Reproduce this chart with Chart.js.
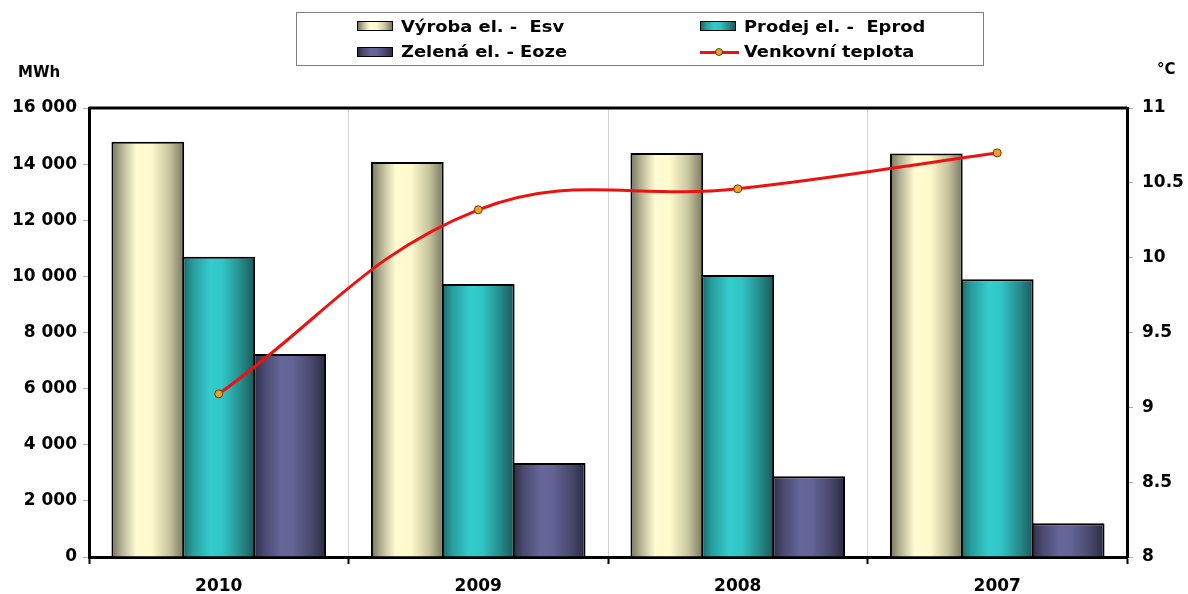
<!DOCTYPE html>
<html lang="cs">
<head>
<meta charset="utf-8">
<title>Výroba a prodej elektřiny</title>
<script src="https://cdn.jsdelivr.net/npm/chart.js@4/dist/chart.umd.min.js"></script>
<style>
  html, body { margin: 0; padding: 0; background: #fff; }
  #wrap { position: relative; width: 1188px; height: 594px; overflow: hidden; }
  #chart { position: absolute; left: 0; top: 0; }
  #legend {
    position: absolute; left: 296px; top: 12px; width: 686px; height: 52px;
    border: 1.5px solid #808080; box-sizing: content-box;
    font: bold 15px "DejaVu Sans", sans-serif; color: #000;
  }
  .sw { position: absolute; width: 34px; height: 8px; border: 1.5px solid #000; }
  .ln { position: absolute; width: 39px; height: 12px; }
  .ln::before { content: ""; position: absolute; left: 0; right: 0; top: 4.5px; height: 3px; background: #ee1111; }
  .ln::after { content: ""; position: absolute; left: 15px; top: 2px; width: 6px; height: 6px; border-radius: 50%;
               background: #f0a028; border: 1px solid #5a4010; }
  .txt { position: absolute; height: 20px; line-height: 20px; white-space: pre;
         transform: scaleX(1.19); transform-origin: left center; }
</style>
</head>
<body>
<div id="wrap">
  <canvas id="chart" width="1188" height="594"></canvas>
  <div id="legend"></div>
</div>
<script>
// Years on the category axis
const years = ['2010', '2009', '2008', '2007'];
// Electricity production [MWh]
const vyroba = [14800, 14080, 14400, 14380];
// Electricity sold [MWh]
const prodej = [10700, 9730, 10050, 9900];
// Green electricity [MWh]
const zelena = [7230, 3350, 2880, 1200];
// Mean outdoor temperature [°C]
const teplota = [9.09, 10.32, 10.46, 10.70];

// Left and right axis ranges
const mwhTicks = { min: 0, max: 16000, step: 2000 };
const tempTicks = { min: 8, max: 11, step: 0.5 };

const labels = {
  vyroba: 'Výroba el. -  Esv',
  prodej: 'Prodej el. -  Eprod',
  zelena: 'Zelená el. - Eoze',
  teplota: 'Venkovní teplota'
};

// Horizontal shading for each bar colour (cylinder-like fill)
const shades = {
  vyroba: [[0, '#74745c'], [0.14, '#b4b294'], [0.34, '#fffcd2'], [0.55, '#fffacc'], [0.8, '#c6c49e'], [1, '#78765e']],
  prodej: [[0, '#1c6666'], [0.14, '#279c9c'], [0.38, '#33cccc'], [0.55, '#31c6c6'], [0.8, '#268c8c'], [1, '#1a5858']],
  zelena: [[0, '#2c2c46'], [0.14, '#48486f'], [0.38, '#666699'], [0.55, '#636395'], [0.8, '#48486c'], [1, '#2a2a42']]
};

function cssGradient(stops) {
  return 'linear-gradient(to right,' + stops.map(s => s[1] + ' ' + (s[0] * 100) + '%').join(',') + ')';
}

const fmtThousands = v => String(v).replace(/\B(?=(\d{3})+(?!\d))/g, ' ');
const FONT = '"DejaVu Sans", sans-serif';

// Fills every bar with a horizontal gradient spanning its own width
const barShading = {
  id: 'barShading',
  beforeDatasetsDraw(chart) {
    const ctx = chart.ctx;
    chart.data.datasets.forEach((ds, i) => {
      if (ds.type !== 'bar') return;
      const meta = chart.getDatasetMeta(i);
      meta.data.forEach(el => {
        const { x, width } = el.getProps(['x', 'width'], true);
        const g = ctx.createLinearGradient(x - width / 2, 0, x + width / 2, 0);
        shades[ds.key].forEach(s => g.addColorStop(s[0], s[1]));
        el.options = Object.assign({}, el.options, { backgroundColor: g });
      });
    });
  }
};

// Plot frame top edge and axis unit captions
const frameAndUnits = {
  id: 'frameAndUnits',
  afterDatasetsDraw(chart) {
    const { ctx, chartArea: a } = chart;
    ctx.save();
    ctx.strokeStyle = '#000';
    ctx.lineWidth = 3;
    ctx.beginPath();
    ctx.moveTo(a.left, a.top);
    ctx.lineTo(a.right, a.top);
    ctx.stroke();
    ctx.fillStyle = '#000';
    ctx.font = 'bold 15px ' + FONT;
    ctx.textBaseline = 'middle';
    ctx.textAlign = 'left';
    ctx.fillText('MWh', 18, 73);
    ctx.fillText('°C', 1157, 70);
    ctx.restore();
  }
};

const barStyle = { borderColor: '#000', borderWidth: 2, categoryPercentage: 0.82, barPercentage: 1.025 };

const chart = new Chart(document.getElementById('chart'), {
  data: {
    labels: years,
    datasets: [
      Object.assign({ type: 'bar', key: 'vyroba', label: labels.vyroba, data: vyroba, yAxisID: 'y', order: 1,
        backgroundColor: '#fffacc' }, barStyle),
      Object.assign({ type: 'bar', key: 'prodej', label: labels.prodej, data: prodej, yAxisID: 'y', order: 1,
        backgroundColor: '#33cccc' }, barStyle),
      Object.assign({ type: 'bar', key: 'zelena', label: labels.zelena, data: zelena, yAxisID: 'y', order: 1,
        backgroundColor: '#666699' }, barStyle),
      { type: 'line', key: 'teplota', label: labels.teplota, data: teplota, yAxisID: 'y2', order: 0,
        borderColor: '#ee1111', borderWidth: 3, tension: 0.4,
        pointRadius: 4, pointBackgroundColor: '#f0a028', pointBorderColor: '#5a4010', pointBorderWidth: 1 }
    ]
  },
  options: {
    responsive: false,
    animation: false,
    layout: { padding: { top: 108, left: 0, right: 0, bottom: 0 } },
    plugins: { legend: { display: false }, tooltip: { enabled: false } },
    scales: {
      x: {
        afterFit: s => { s.height = 37; },
        offset: true,
        grid: { offset: true, color: '#d2d2d2', lineWidth: 1, drawTicks: true,
                tickLength: 7, tickColor: '#000', tickWidth: 2 },
        border: { display: true, color: '#000', width: 3 },
        ticks: { color: '#000', font: { family: FONT, size: 17, weight: 'bold' }, padding: 12 }
      },
      y: {
        position: 'left',
        min: mwhTicks.min, max: mwhTicks.max,
        afterFit: s => { s.width = 89; },
        grid: { drawOnChartArea: false, drawTicks: true, tickLength: 6, tickColor: '#b0b0b0', tickWidth: 1 },
        border: { display: true, color: '#000', width: 3 },
        ticks: { stepSize: mwhTicks.step, color: '#000', padding: 6,
                 font: { family: FONT, size: 17, weight: 'bold' }, callback: v => fmtThousands(v) }
      },
      y2: {
        position: 'right',
        min: tempTicks.min, max: tempTicks.max,
        afterFit: s => { s.width = 61; },
        grid: { drawOnChartArea: false, drawTicks: true, tickLength: 6, tickColor: '#b0b0b0', tickWidth: 1 },
        border: { display: true, color: '#000', width: 3 },
        ticks: { stepSize: tempTicks.step, color: '#000', padding: 9,
                 font: { family: FONT, size: 17, weight: 'bold' }, callback: v => String(v) }
      }
    }
  },
  plugins: [barShading, frameAndUnits]
});

// Two-column legend built from the datasets
(function buildLegend() {
  const box = document.getElementById('legend');
  // marker left, text left, row centre (relative to the legend box)
  const pos = [
    { mark: 60, text: 104, cy: 13.5 },
    { mark: 403, text: 447, cy: 13.5 },
    { mark: 60, text: 104, cy: 39 },
    { mark: 403, text: 447, cy: 39 }
  ];
  ['vyroba', 'prodej', 'zelena', 'teplota'].forEach((key, i) => {
    const ds = chart.data.datasets.find(d => d.key === key);
    const p = pos[i];
    const mark = document.createElement('div');
    if (ds.type === 'bar') {
      mark.className = 'sw';
      mark.style.background = cssGradient(shades[key]);
      mark.style.top = (p.cy - 5.5) + 'px';
    } else {
      mark.className = 'ln';
      mark.style.top = (p.cy - 6) + 'px';
    }
    mark.style.left = p.mark + 'px';
    const txt = document.createElement('div');
    txt.className = 'txt';
    txt.textContent = ds.label;
    txt.style.left = p.text + 'px';
    txt.style.top = (p.cy - 10) + 'px';
    box.appendChild(mark);
    box.appendChild(txt);
  });
})();
</script>
</body>
</html>
